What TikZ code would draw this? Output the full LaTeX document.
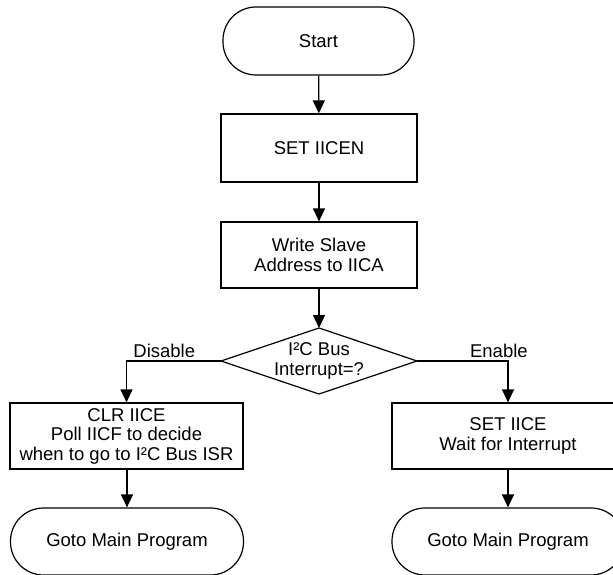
\documentclass[tikz,border=0pt]{standalone}
\usepackage{fontspec}
\setmainfont{Liberation Sans}
\usetikzlibrary{arrows.meta}
\begin{document}
\begin{tikzpicture}[x=1pt,y=-1pt,
  line width=1.2pt,
  every node/.style={font=\fontsize{18.5}{19.5}\selectfont, align=center, inner sep=0pt},
  term/.style={draw, rectangle, rounded corners=33pt, minimum height=67pt},
  procbox/.style={draw, rectangle, minimum height=66pt},
  arr/.style={-{Triangle[length=13pt,width=12pt]}},
  lbl/.style={anchor=south, inner sep=3pt}]
\useasboundingbox (0,0) rectangle (613,575);
\node[term, minimum width=191pt, minimum height=68pt] (start) at (318.5,41) {Start};
\node[procbox, minimum width=196pt, minimum height=68pt] (set) at (319,148) {SET IICEN};
\node[procbox, minimum width=196pt] (write) at (319,255) {Write Slave\\Address to IICA};
\node (dia) at (319,361) {I²C Bus\\Interrupt=?};
\coordinate (dt) at (319,328);
\coordinate (db) at (319,394);
\coordinate (dl) at (221,361);
\coordinate (dr) at (417,361);
\draw (dt) -- (dr) -- (db) -- (dl) -- cycle;
\node[procbox, minimum width=233pt] (lbox) at (126.5,436) {CLR IICE\\Poll IICF to decide\\when to go to I²C Bus ISR};
\node[procbox, minimum width=232pt] (rbox) at (508,436) {SET IICE\\Wait for Interrupt};
\node[term, minimum width=233pt] (lend) at (127,541.5) {Goto Main Program};
\node[term, minimum width=232pt] (rend) at (508,541.5) {Goto Main Program};
\draw[arr] (start) -- (set);
\draw[arr] (set) -- (write);
\draw[arr] (write) -- (dt);
\draw[arr] (dl) -| (lbox.north) node[lbl, pos=0.3] {Disable};
\draw[arr] (dr) -| (rbox.north) node[lbl, pos=0.45] {Enable};
\draw[arr] (lbox.south -| lend.north) -- (lend.north);
\draw[arr] (rbox) -- (rend);
\end{tikzpicture}
\end{document}
